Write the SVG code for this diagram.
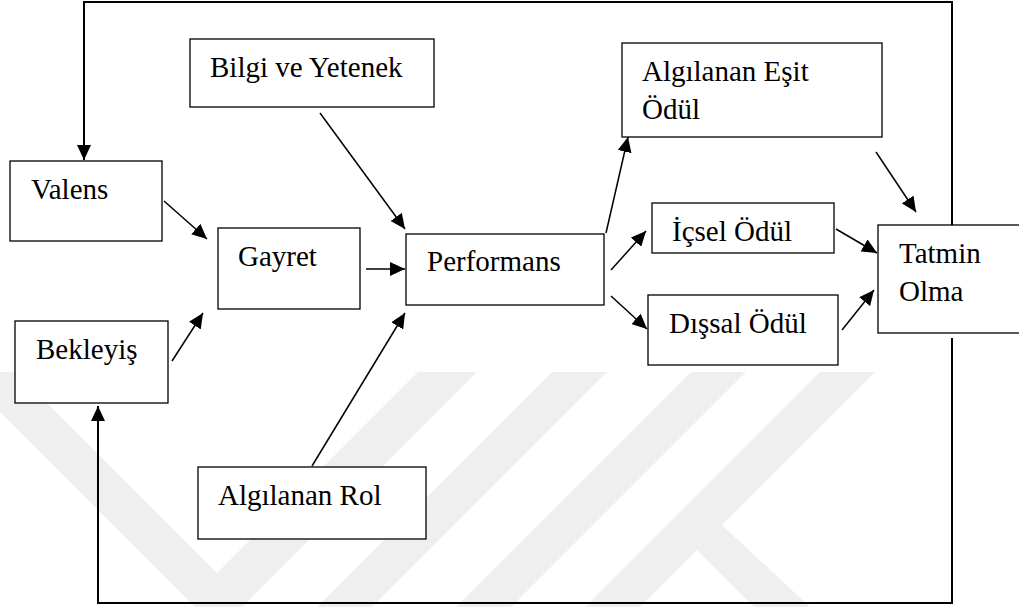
<svg xmlns="http://www.w3.org/2000/svg" width="1019" height="607" viewBox="0 0 1019 607">
<style>
.box{fill:#ffffff;stroke:#000000;stroke-width:1.3}
.con{fill:none;stroke:#000000;stroke-width:1.5}
.frame{fill:none;stroke:#000000;stroke-width:2}
.wm{fill:#efefef}
</style>
<defs>
<marker id="ah" markerUnits="userSpaceOnUse" markerWidth="16" markerHeight="14" refX="15" refY="7" orient="auto">
<path d="M0,0 L15,7 L0,14 z" fill="#000000"/>
</marker>
</defs>
<rect x="0" y="0" width="1019" height="607" fill="#ffffff"/>
<g id="watermark">
<polygon class="wm" points="-40,372 16,372 217,573 418,372 477,372 242,607 195,607"/>
<polygon class="wm" points="552,372 607,372 372,607 317,607"/>
<polygon class="wm" points="691,372 746,372 511,607 456,607"/>
<polygon class="wm" points="820,372 875,372 640,607 585,607"/>
<polygon class="wm" points="722,525 697,550 754,607 810,607"/>
</g>
<g id="connectors">
<path class="frame" d="M952,225 V2 H84 V160" marker-end="url(#ah)"/>
<path class="frame" d="M952,338 V603 H98 V406" marker-end="url(#ah)"/>
<line class="con" x1="164" y1="201" x2="207" y2="239" marker-end="url(#ah)"/>
<line class="con" x1="172" y1="361" x2="203" y2="313" marker-end="url(#ah)"/>
<line class="con" x1="320" y1="113" x2="405" y2="229" marker-end="url(#ah)"/>
<line class="con" x1="366" y1="269" x2="405" y2="269" marker-end="url(#ah)"/>
<line class="con" x1="312" y1="466" x2="405" y2="313" marker-end="url(#ah)"/>
<line class="con" x1="606" y1="233" x2="628" y2="137" marker-end="url(#ah)"/>
<line class="con" x1="611" y1="270" x2="646" y2="231" marker-end="url(#ah)"/>
<line class="con" x1="611" y1="296" x2="647" y2="329" marker-end="url(#ah)"/>
<line class="con" x1="836" y1="229" x2="877" y2="253" marker-end="url(#ah)"/>
<line class="con" x1="842" y1="330" x2="874" y2="290" marker-end="url(#ah)"/>
<line class="con" x1="876" y1="152" x2="916" y2="212" marker-end="url(#ah)"/>
</g>
<g font-family="Liberation Serif, Times New Roman, DejaVu Serif, serif" font-size="29" fill="#000000">
<g id="node-bilgi">
<rect class="box" x="190" y="39" width="244" height="68"/>
<text x="210" y="77">Bilgi ve Yetenek</text>
</g>
<g id="node-valens">
<rect class="box" x="10" y="161" width="152" height="80"/>
<text x="31" y="199">Valens</text>
</g>
<g id="node-gayret">
<rect class="box" x="218" y="228" width="142" height="81"/>
<text x="238" y="266">Gayret</text>
</g>
<g id="node-performans">
<rect class="box" x="406" y="234" width="198" height="71"/>
<text x="427" y="271">Performans</text>
</g>
<g id="node-bekleyis">
<rect class="box" x="15" y="321" width="153" height="82"/>
<text x="36" y="359">Bekleyiş</text>
</g>
<g id="node-rol">
<rect class="box" x="198" y="467" width="228" height="72"/>
<text x="218" y="505">Algılanan Rol</text>
</g>
<g id="node-esit">
<rect class="box" x="622" y="43" width="260" height="94"/>
<text x="642" y="81">Algılanan Eşit</text>
<text x="642" y="119">Ödül</text>
</g>
<g id="node-icsel">
<rect class="box" x="652" y="203" width="182" height="50"/>
<text x="672" y="241">İçsel Ödül</text>
</g>
<g id="node-dissal">
<rect class="box" x="648" y="295" width="190" height="70"/>
<text x="669" y="333">Dışsal Ödül</text>
</g>
<g id="node-tatmin">
<rect class="box" x="878" y="225" width="152" height="108"/>
<text x="899" y="263">Tatmin</text>
<text x="899" y="301">Olma</text>
</g>
</g>
</svg>
